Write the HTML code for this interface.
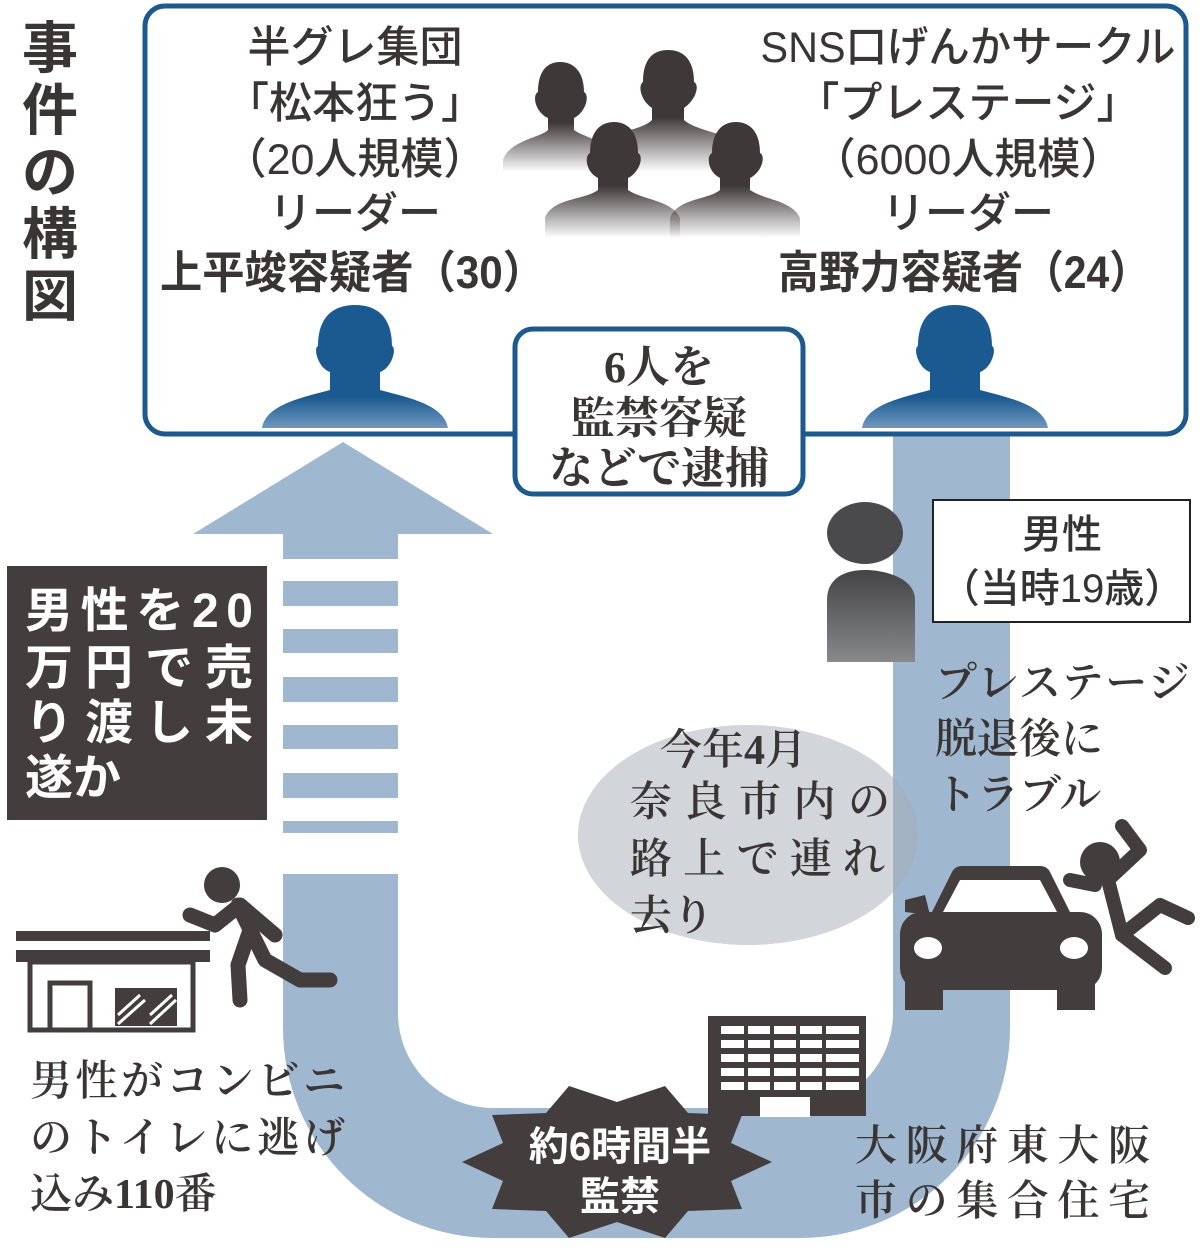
<!DOCTYPE html>
<html><head><meta charset="utf-8"><style>
html,body{margin:0;padding:0;background:#fff;}
svg{display:block;}
.s{font-family:"Liberation Sans","Noto Sans CJK JP",sans-serif;}
.r{font-family:"Liberation Serif","Noto Serif CJK JP","Noto Serif CJK SC",serif;}
</style></head><body>
<svg width="1200" height="1252" viewBox="0 0 1200 1252" xmlns="http://www.w3.org/2000/svg">
<defs>
<linearGradient id="bl" x1="0" y1="0" x2="0" y2="1">
<stop offset="0" stop-color="#1b5a90"/><stop offset="0.75" stop-color="#1b5a90"/><stop offset="1" stop-color="#6f98c0"/></linearGradient>
<linearGradient id="dk" x1="0" y1="0" x2="0" y2="1">
<stop offset="0" stop-color="#3e3838"/><stop offset="0.55" stop-color="#3e3838"/><stop offset="1" stop-color="#3e3838" stop-opacity="0"/></linearGradient>
<linearGradient id="gr" x1="0" y1="0" x2="0" y2="1">
<stop offset="0" stop-color="#444446"/><stop offset="1" stop-color="#88898b"/></linearGradient>
</defs>

<path d="M283,534 L283,1028 A210,210 0 0 0 493,1238 L800,1238 A210,210 0 0 0 1010,1028 L1010,420 L893,420 L893,1013 A95,95 0 0 1 798,1108 L493,1108 A95,95 0 0 1 398,1013 L398,534 Z" fill="#9fb8d0"/>
<polygon points="343,442 493,534 193,534" fill="#9fb8d0"/>
<g fill="#fff">
<rect x="280" y="559" width="122" height="22"/>
<rect x="280" y="606" width="122" height="23"/>
<rect x="280" y="653" width="122" height="24"/>
<rect x="280" y="702" width="122" height="23"/>
<rect x="280" y="749" width="122" height="24"/>
<rect x="280" y="798" width="122" height="23"/>
<rect x="280" y="833" width="122" height="41"/>
</g>

<ellipse cx="748" cy="835" rx="170" ry="110" fill="#a5abb3" fill-opacity="0.5"/>

<rect x="145" y="6" width="1041" height="428" rx="20" fill="#fff" stroke="#1c5a8e" stroke-width="5"/>

<g class="s" font-size="56" font-weight="bold" fill="#3a3535" text-anchor="middle">
<text x="50" y="68">事</text><text x="50" y="130">件</text><text x="50" y="192">の</text><text x="50" y="254">構</text><text x="50" y="316">図</text>
</g>

<g class="s" font-size="43" font-weight="500" fill="#3a3535" text-anchor="middle">
<text x="355" y="62">半グレ集団</text>
<text x="355" y="118">「松本狂う」</text>
<text x="355" y="174">（20人規模）</text>
<text x="355" y="228">リーダー</text>
<text x="968" y="62" textLength="415" lengthAdjust="spacingAndGlyphs">SNS口げんかサークル</text>
<text x="968" y="118">「プレステージ」</text>
<text x="968" y="174">（6000人規模）</text>
<text x="968" y="228">リーダー</text>
</g>
<g class="s" font-size="45" font-weight="bold" fill="#3a3535">
<text x="160" y="288" textLength="385" lengthAdjust="spacingAndGlyphs">上平竣容疑者（30）</text>
<text x="778" y="288" textLength="372" lengthAdjust="spacingAndGlyphs">高野力容疑者（24）</text>
</g>

<g fill="url(#dk)">
<path d="M503,160 C510,140 540,138 548,130 L548,118 C535,112 532,95 538,92 C538,70 548,62 560,62 C574,62 584,72 584,92 C590,95 586,112 574,118 L574,130 C585,138 612,142 620,160 L620,172 L503,172 Z"/>
<path d="M600,148 C608,130 640,132 652,120 L652,108 C640,100 638,85 643,82 C643,58 654,50 668,50 C682,50 694,58 694,82 C700,85 696,100 684,108 L684,120 C698,132 728,132 742,148 L742,172 L600,172 Z"/>
<path d="M545,218 C552,198 585,200 598,190 L598,178 C586,172 584,156 590,153 C590,132 600,122 614,122 C628,122 638,132 638,153 C644,156 640,172 628,178 L628,190 C642,200 672,200 680,218 L680,238 L545,238 Z"/>
<path d="M670,218 C678,198 708,200 720,190 L720,178 C708,172 706,156 712,153 C712,132 722,122 736,122 C750,122 760,132 760,153 C766,156 762,172 750,178 L750,190 C764,200 792,200 800,218 L800,238 L670,238 Z"/>
</g>

<g fill="url(#bl)">
<path d="M262,428 C266,405 300,398 330,390 L330,372 C318,368 313,348 318,346 C318,318 332,305 355,305 C378,305 392,318 392,346 C397,348 392,368 380,372 L380,390 C410,398 444,405 448,428 Z"/>
<path d="M862,428 C866,405 900,398 930,390 L930,372 C918,368 913,348 918,346 C918,318 932,305 955,305 C978,305 992,318 992,346 C997,348 992,368 980,372 L980,390 C1010,398 1044,405 1048,428 Z"/>
</g>

<rect x="515" y="329" width="288" height="165" rx="18" fill="#fff" stroke="#1c5a8e" stroke-width="5"/>
<g class="r" font-size="44" font-weight="bold" fill="#3a3535" text-anchor="middle">
<text x="659" y="382">6人を</text>
<text x="659" y="433">監禁容疑</text>
<text x="659" y="483">などで逮捕</text>
</g>

<rect x="7" y="566" width="260" height="254" fill="#433d3d"/>
<g class="s" font-size="48" font-weight="bold" fill="#fff">
<text x="25" y="627" textLength="228">男性を20</text>
<text x="25" y="684" textLength="228">万円で売</text>
<text x="25" y="739" textLength="228">り渡し未</text>
<text x="25" y="794">遂か</text>
</g>

<ellipse cx="865" cy="533" rx="38" ry="31" fill="#4a4a4c"/>
<path d="M827,662 L827,600 C827,578 845,570 865,570 C885,570 915,578 915,600 L915,662 Z" fill="url(#gr)"/>
<rect x="933" y="500" width="257" height="122" fill="#fff" stroke="#222" stroke-width="2"/>
<g class="s" font-size="40" font-weight="500" fill="#333" text-anchor="middle">
<text x="1062" y="548">男性</text>
<text x="1062" y="602">（当時19歳）</text>
</g>

<g class="r" font-size="42" font-weight="600" fill="#3a3535">
<text x="935" y="697" textLength="255">プレステージ</text>
<text x="935" y="753">脱退後に</text>
<text x="935" y="809">トラブル</text>
</g>

<g class="r" font-size="42" font-weight="600" fill="#3a3535">
<text x="660" y="764">今年4月</text>
<text x="630" y="816" textLength="260">奈良市内の</text>
<text x="630" y="873" textLength="255">路上で連れ</text>
<text x="630" y="930">去り</text>
</g>

<g fill="#433d3d">
<path d="M928,920 L952,872 Q955,866 962,866 L1040,866 Q1047,866 1050,872 L1074,920 Z"/>
<rect x="900" y="912" width="202" height="78" rx="22"/>
<rect x="905" y="970" width="38" height="40"/>
<rect x="1057" y="970" width="38" height="40"/>
<path d="M905,900 L925,895 L930,915 L905,912 Z"/>
</g>
<path d="M943,912 L960,880 L1040,880 L1057,912 Z" fill="#fff"/>
<ellipse cx="928" cy="948" rx="14" ry="11" fill="#fff"/>
<ellipse cx="1074" cy="948" rx="14" ry="11" fill="#fff"/>
<circle cx="1100" cy="862" r="20" fill="#433d3d"/>
<g stroke="#433d3d" stroke-width="14" stroke-linecap="round" stroke-linejoin="round" fill="none">
<path d="M1108,880 L1122,935 L1160,905 L1188,918"/>
<path d="M1122,935 L1165,968"/>
<path d="M1110,878 L1140,850 L1122,826"/>
<path d="M1095,885 L1070,880"/>
</g>

<rect x="16" y="931" width="194" height="10" fill="#433d3d"/>
<rect x="16" y="950" width="194" height="12" fill="#433d3d"/>
<rect x="30" y="962" width="163" height="68" fill="none" stroke="#433d3d" stroke-width="5"/>
<rect x="50" y="983" width="40" height="47" fill="none" stroke="#433d3d" stroke-width="5"/>
<rect x="115" y="988" width="62" height="38" fill="#433d3d"/>
<path d="M118,1015 L140,995 M118,1024 L145,1000 M150,1015 L172,995 M150,1024 L176,1000" stroke="#fff" stroke-width="3"/>
<circle cx="222" cy="885" r="18" fill="#433d3d"/>
<g stroke="#433d3d" stroke-width="15" stroke-linecap="round" stroke-linejoin="round" fill="none">
<path d="M238,905 L265,960 L300,980 L330,980"/>
<path d="M250,930 L238,965 L240,1000"/>
<path d="M190,915 L215,925 L240,905 L275,935"/>
</g>

<rect x="708" y="1016" width="158" height="100" fill="#433d3d"/>
<g fill="#fff">
<rect x="721" y="1026" width="138" height="8"/>
<rect x="721" y="1040" width="138" height="8"/>
<rect x="721" y="1054" width="138" height="8"/>
<rect x="721" y="1068" width="138" height="8"/>
<rect x="721" y="1082" width="138" height="8"/>
<rect x="760" y="1097" width="50" height="20"/>
</g>
<g fill="#433d3d">
<rect x="744" y="1024" width="4" height="70"/><rect x="770" y="1024" width="4" height="70"/><rect x="796" y="1024" width="4" height="70"/><rect x="822" y="1024" width="4" height="70"/>
</g>

<polygon points="772,1162 731,1181 742,1209 688,1211 665,1238 617,1222 569,1238 546,1211 492,1209 503,1181 462,1162 503,1143 492,1115 546,1113 569,1086 617,1102 665,1086 688,1113 742,1115 731,1143" fill="#433d3d"/>
<g class="s" font-size="40" font-weight="bold" fill="#fff" text-anchor="middle">
<text x="620" y="1160">約6時間半</text>
<text x="620" y="1210">監禁</text>
</g>

<g class="r" font-size="42" font-weight="600" fill="#3a3535">
<text x="30" y="1095" textLength="315">男性がコンビニ</text>
<text x="30" y="1152" textLength="315">のトイレに逃げ</text>
<text x="30" y="1208">込み110番</text>
<text x="855" y="1160" textLength="295">大阪府東大阪</text>
<text x="855" y="1215" textLength="295">市の集合住宅</text>
</g>
</svg>
</body></html>
